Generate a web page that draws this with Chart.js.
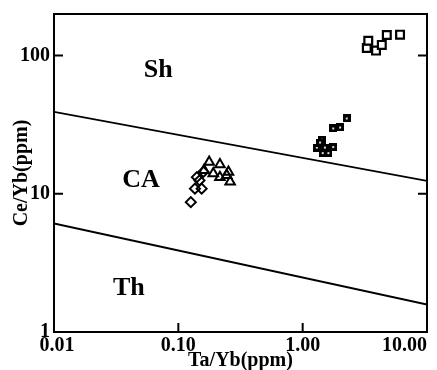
<!DOCTYPE html>
<html>
<head>
<meta charset="utf-8">
<script src="https://cdn.jsdelivr.net/npm/chart.js@4.4.0/dist/chart.umd.min.js"></script>
<style>
html, body { margin: 0; padding: 0; background: #fff; }
#wrap { width: 437px; height: 370px; }
</style>
</head>
<body>
<div id="wrap"><canvas id="chart"></canvas></div>
<script>
// axis ticks
const xTicks = [0.01, 0.1, 1, 10];
const xTickLabels = ['0.01', '0.10', '1.00', '10.00'];
const yTicks = [1, 10, 100];

// boundary lines (Ta/Yb -> Ce/Yb)
const upperLineX = [0.01, 10];
const upperLineY = [39.2, 12.4];
const lowerLineX = [0.01, 10];
const lowerLineY = [6.1, 1.58];

// field labels
const fieldNames = ['Sh', 'CA', 'Th'];
const fieldX = [0.069, 0.050, 0.040];
const fieldY = [78, 12.5, 2.08];

// samples
const openSquareX = [3.28, 3.37, 3.89, 4.33, 4.75, 6.07];
const openSquareY = [113.6, 128, 108.7, 119.5, 141, 141.8];

const dotSquareX = [2.26, 2.0, 1.76, 1.43, 1.30, 1.51, 1.76, 1.61, 1.45, 1.38];
const dotSquareY = [35.1, 30.2, 29.7, 24.6, 21.6, 21.6, 21.8, 19.7, 19.7, 23.5];

const triangleX = [0.177, 0.216, 0.253, 0.191, 0.216, 0.245, 0.261, 0.161];
const triangleY = [17.0, 16.3, 14.4, 14.0, 13.2, 13.6, 12.2, 14.8];

const diamondX = [0.126, 0.136, 0.148, 0.159, 0.154, 0.141];
const diamondY = [8.7, 10.9, 12.5, 14.4, 10.9, 13.2];

const pts = (xs, ys) => xs.map((x, i) => ({ x: x, y: ys[i] }));

// square with a white dot in the middle
const dotSquare = document.createElement('canvas');
dotSquare.width = 8;
dotSquare.height = 8;
(function () {
    const c = dotSquare.getContext('2d');
    c.fillStyle = '#000';
    c.fillRect(0, 0, 8, 8);
    c.fillStyle = '#ddd';
    c.fillRect(3, 3, 2, 2);
})();

const serif = '"Liberation Serif", "Times New Roman", serif';

const framePlugin = {
    id: 'frame',
    afterDraw(chart) {
        const ctx = chart.ctx;
        const a = chart.chartArea;
        const xs = chart.scales.x;
        const ys = chart.scales.y;
        ctx.save();
        ctx.strokeStyle = '#000';
        ctx.lineWidth = 2;
        ctx.strokeRect(a.left, a.top, a.right - a.left, a.bottom - a.top);
        ctx.beginPath();
        // inward ticks
        [10, 100].forEach(v => {
            const p = ys.getPixelForValue(v);
            ctx.moveTo(a.left, p); ctx.lineTo(a.left + 9, p);
            ctx.moveTo(a.right, p); ctx.lineTo(a.right - 9, p);
        });
        [0.1, 1].forEach(v => {
            const p = xs.getPixelForValue(v);
            ctx.moveTo(p, a.bottom); ctx.lineTo(p, a.bottom - 9);
        });
        ctx.stroke();

        // x tick labels, last one kept inside the picture
        ctx.fillStyle = '#000';
        ctx.font = 'bold 20px ' + serif;
        ctx.textBaseline = 'middle';
        xTicks.forEach((v, i) => {
            const p = xs.getPixelForValue(v);
            ctx.textAlign = i === xTicks.length - 1 ? 'right' : 'center';
            ctx.fillText(xTickLabels[i], p + (i === 0 ? 3 : 0), a.bottom + 14);
        });

        // field names
        ctx.font = 'bold 26px ' + serif;
        ctx.textAlign = 'center';
        fieldNames.forEach((t, i) => {
            ctx.fillText(t, xs.getPixelForValue(fieldX[i]), ys.getPixelForValue(fieldY[i]));
        });
        ctx.restore();
    }
};

const ctx = document.getElementById('chart');
new Chart(ctx, {
    data: {
        datasets: [
            {
                type: 'line',
                data: pts(upperLineX, upperLineY),
                borderColor: '#000',
                borderWidth: 1.8,
                pointRadius: 0
            },
            {
                type: 'line',
                data: pts(lowerLineX, lowerLineY),
                borderColor: '#000',
                borderWidth: 1.8,
                pointRadius: 0
            },
            {
                type: 'scatter',
                data: pts(openSquareX, openSquareY),
                pointStyle: 'rect',
                pointRadius: 5.5,
                borderColor: '#000',
                borderWidth: 2.2,
                backgroundColor: '#fff'
            },
            {
                type: 'scatter',
                data: pts(dotSquareX, dotSquareY),
                pointStyle: dotSquare,
                pointRadius: 5
            },
            {
                type: 'scatter',
                data: pts(triangleX, triangleY),
                pointStyle: 'triangle',
                pointRadius: 5.5,
                borderColor: '#000',
                borderWidth: 2,
                backgroundColor: 'rgba(255,255,255,0)'
            },
            {
                type: 'scatter',
                data: pts(diamondX, diamondY),
                pointStyle: 'rectRot',
                pointRadius: 5,
                borderColor: '#000',
                borderWidth: 2,
                backgroundColor: 'rgba(255,255,255,0)'
            }
        ]
    },
    options: {
        responsive: true,
        maintainAspectRatio: false,
        animation: false,
        layout: { padding: { top: 14, right: 10, left: 0, bottom: 0 } },
        plugins: {
            legend: { display: false },
            tooltip: { enabled: false }
        },
        scales: {
            x: {
                type: 'logarithmic',
                min: 0.01,
                max: 10,
                grid: { display: false },
                border: { display: false },
                ticks: { display: false },
                afterBuildTicks: s => { s.ticks = xTicks.map(v => ({ value: v })); },
                afterFit: s => {
                    s.height = 38;
                    s.paddingLeft = 0;
                    s.paddingRight = 0;
                },
                title: {
                    display: true,
                    text: 'Ta/Yb(ppm)',
                    color: '#000',
                    font: { family: serif, size: 20, weight: 'bold', lineHeight: 0.9 },
                    padding: { top: 0, bottom: 0 }
                }
            },
            y: {
                type: 'logarithmic',
                min: 1,
                max: 200,
                grid: { display: false, drawTicks: false },
                border: { display: false },
                afterBuildTicks: s => { s.ticks = yTicks.map(v => ({ value: v })); },
                afterFit: s => {
                    s.width = 54;
                    s.paddingTop = 0;
                    s.paddingBottom = 0;
                },
                ticks: {
                    color: '#000',
                    padding: 4,
                    font: { family: serif, size: 20, weight: 'bold' },
                    callback: v => String(v)
                },
                title: {
                    display: true,
                    text: 'Ce/Yb(ppm)',
                    color: '#000',
                    font: { family: serif, size: 20, weight: 'bold', lineHeight: 1 },
                    padding: { top: 12, bottom: 0 }
                }
            }
        }
    },
    plugins: [framePlugin]
});
</script>
</body>
</html>
